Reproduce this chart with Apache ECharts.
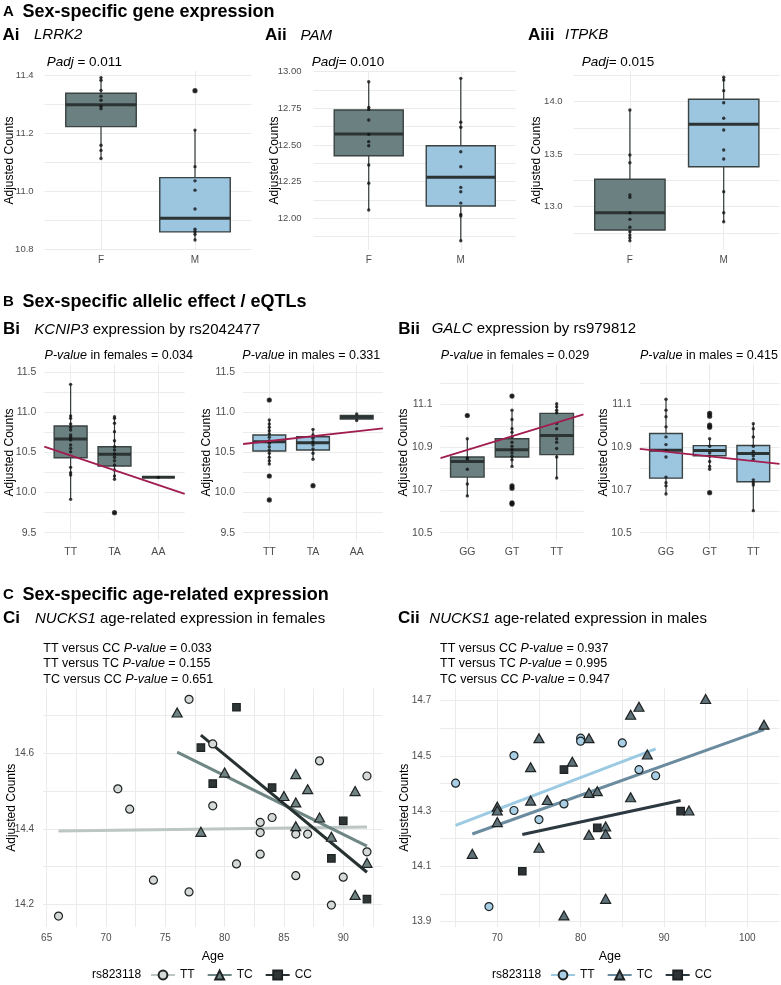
<!DOCTYPE html>
<html><head><meta charset="utf-8">
<script src="https://cdn.jsdelivr.net/npm/echarts@6/dist/echarts.min.js"></script>
<style>html,body{margin:0;padding:0;background:#fff}#c{width:781px;height:985px}</style>
</head><body><div id="c"></div>
<script>
// ===================== DATA =====================
const sexCategories = ['F', 'M'];
const kcnip3Genotypes = ['TT', 'TA', 'AA'];
const galcGenotypes = ['GG', 'GT', 'TT'];
const nucksGenotypes = ['TT', 'TC', 'CC'];

// box stats: [lower whisker, Q1, median, Q3, upper whisker]
// Ai LRRK2
const lrrk2PointsF = [11.392, 11.383, 11.348, 11.328, 11.314, 11.293, 11.285, 11.159, 11.141, 11.113];
const lrrk2BoxF = [11.113, 11.223, 11.298, 11.338, 11.392];
const lrrk2PointsM = [11.347, 11.211, 11.085, 11.036, 11.004, 10.939, 10.869, 10.861, 10.852, 10.832];
const lrrk2BoxM = [10.832, 10.860, 10.907, 11.047, 11.211];
// Aii PAM
const pamPointsF = [12.932, 12.757, 12.743, 12.671, 12.573, 12.523, 12.495, 12.364, 12.239, 12.057];
const pamBoxF = [12.057, 12.427, 12.575, 12.739, 12.932];
const pamPointsM = [12.955, 12.655, 12.621, 12.454, 12.352, 12.211, 12.181, 12.104, 12.027, 12.016, 11.847];
const pamBoxM = [11.847, 12.084, 12.280, 12.495, 12.955];
// Aiii ITPKB
const itpkbPointsF = [13.921, 13.492, 13.419, 13.111, 13.089, 12.943, 12.880, 12.804, 12.762, 12.730, 12.705, 12.676];
const itpkbBoxF = [12.676, 12.778, 12.943, 13.261, 13.921];
const itpkbPointsM = [14.232, 14.207, 14.105, 13.990, 13.842, 13.730, 13.540, 13.454, 13.143, 12.943, 12.857];
const itpkbBoxM = [12.857, 13.381, 13.785, 14.023, 14.232];

// Bi KCNIP3 by rs2042477
const kcnip3F_TT = [11.35, 10.955, 10.926, 10.855, 10.814, 10.78, 10.718, 10.69, 10.656, 10.594, 10.552, 10.51, 10.315, 10.248, 10.22, 9.916];
const kcnip3F_TA = [10.946, 10.926, 10.864, 10.76, 10.647, 10.572, 10.531, 10.481, 10.44, 10.398, 10.344, 10.282, 10.207, 10.166, 9.749];
const kcnip3F_AA = [10.19];
const kcnip3BoxF = [[9.916, 10.435, 10.668, 10.83, 11.35], [10.166, 10.332, 10.477, 10.572, 10.946], [10.19, 10.19, 10.19, 10.19, 10.19]];
const kcnip3FitF = [[0.4, 10.572], [3.6, 9.983]];
const kcnip3M_TT = [11.155, 10.905, 10.855, 10.814, 10.772, 10.731, 10.69, 10.647, 10.615, 10.572, 10.531, 10.49, 10.44, 10.398, 10.357, 10.207, 9.908];
const kcnip3M_TA = [10.789, 10.718, 10.677, 10.635, 10.594, 10.544, 10.49, 10.415, 10.086];
const kcnip3M_AA = [10.98, 10.90];
const kcnip3BoxM = [[10.357, 10.519, 10.635, 10.718, 10.905], [10.415, 10.531, 10.622, 10.697, 10.789], [10.90, 10.918, 10.94, 10.962, 10.98]];
const kcnip3FitM = [[0.4, 10.606], [3.6, 10.802]];

// Bii GALC by rs979812
const galcF_GG = [11.048, 10.939, 10.849, 10.845, 10.797, 10.728, 10.672];
const galcF_GT = [11.139, 11.073, 11.029, 10.986, 10.97, 10.948, 10.923, 10.904, 10.888, 10.873, 10.857, 10.841, 10.81, 10.719, 10.708, 10.64, 10.634];
const galcF_TT = [11.103, 11.089, 11.073, 11.061, 11.011, 10.986, 10.939, 10.923, 10.894, 10.854, 10.756];
const galcBoxF = [[10.672, 10.76, 10.833, 10.854, 10.939], [10.81, 10.854, 10.888, 10.939, 11.073], [10.756, 10.865, 10.954, 11.058, 11.103]];
const galcFitF = [[0.4, 10.849], [3.6, 11.053]];
const galcM_GG = [11.124, 11.073, 11.042, 10.995, 10.948, 10.912, 10.884, 10.854, 10.76, 10.734, 10.719, 10.681];
const galcM_GT = [11.058, 11.045, 11.003, 10.993, 10.939, 10.904, 10.873, 10.857, 10.833, 10.81, 10.797, 10.687];
const galcM_TT = [11.01, 10.986, 10.948, 10.904, 10.88, 10.86, 10.844, 10.747, 10.734, 10.723, 10.603];
const galcBoxM = [[10.681, 10.755, 10.885, 10.964, 11.124], [10.797, 10.86, 10.884, 10.907, 10.939], [10.603, 10.738, 10.87, 10.908, 11.01]];
const galcFitM = [[0.4, 10.892], [3.6, 10.822]];

// Ci / Cii NUCKS1 [age, adjusted counts]
const nucksF_TT = [[77,14.743],[79,14.625],[71,14.506],[72,14.452],[79,14.461],[74,14.264],[77,14.233],[66,14.169],[81,14.307],[83,14.417],[83,14.39],[83,14.333],[84,14.43],[86,14.386],[86,14.276],[87,14.386],[88,14.58],[89,14.198],[90,14.272],[92,14.54],[92,14.339]];
const nucksF_TC = [[76,14.708],[78,14.392],[80,14.549],[85,14.487],[86,14.545],[86,14.47],[86,14.407],[87,14.505],[88,14.43],[89,14.379],[91,14.5],[91,14.225],[92,14.31]];
const nucksF_CC = [[81,14.722],[78,14.615],[79,14.52],[84,14.509],[90,14.421],[89,14.322],[92,14.214]];
const nucksF_TT_fit = [[66,14.394],[92,14.405]];
const nucksF_TC_fit = [[76,14.603],[92,14.354]];
const nucksF_CC_fit = [[78,14.648],[92,14.285]];
const nucksM_TT = [[65,14.401],[69,13.954],[72,14.501],[72,14.302],[75,14.269],[78,14.326],[80,14.564],[80,14.553],[85,14.547],[87,14.45],[89,14.428]];
const nucksM_TC = [[67,14.145],[70,14.316],[70,14.302],[70,14.26],[74,14.459],[74,14.338],[75,14.564],[75,14.167],[76,14.34],[78,13.922],[79,14.479],[81,14.564],[81,14.366],[81,14.214],[82,14.372],[83,14.244],[83,14.217],[83,13.982],[86,14.649],[86,14.35],[87,14.678],[88,14.505],[93,14.302],[95,14.706],[102,14.613]];
const nucksM_CC = [[73,14.082],[78,14.45],[82,14.239],[92,14.3]];
const nucksM_TT_fit = [[65,14.248],[89,14.525]];
const nucksM_TC_fit = [[67,14.217],[102,14.595]];
const nucksM_CC_fit = [[73,14.215],[92,14.338]];

// tick (gridline) values and tick labels
const lrrk2Ticks = [10.8, 10.9, 11.0, 11.1, 11.2, 11.3, 11.4];
const lrrk2Labels = [10.8, 11.0, 11.2, 11.4];
const pamTicks = [11.875, 12.0, 12.125, 12.25, 12.375, 12.5, 12.625, 12.75, 12.875, 13.0];
const pamLabels = [12.0, 12.25, 12.5, 12.75, 13.0];
const itpkbTicks = [12.75, 13.0, 13.25, 13.5, 13.75, 14.0, 14.25];
const itpkbLabels = [13.0, 13.5, 14.0];
const kcnip3Ticks = [9.5, 9.75, 10.0, 10.25, 10.5, 10.75, 11.0, 11.25, 11.5];
const kcnip3Labels = [9.5, 10.0, 10.5, 11.0, 11.5];
const galcTicks = [10.5, 10.6, 10.7, 10.8, 10.9, 11.0, 11.1, 11.2];
const galcLabels = [10.5, 10.7, 10.9, 11.1];
const ageTicksF = [65, 67.5, 70, 72.5, 75, 77.5, 80, 82.5, 85, 87.5, 90, 92.5];
const ageLabelsF = [65, 70, 75, 80, 85, 90];
const countTicksF = [14.2, 14.3, 14.4, 14.5, 14.6, 14.7];
const countLabelsF = [14.2, 14.4, 14.6];
const ageTicksM = [65, 70, 75, 80, 85, 90, 95, 100];
const ageLabelsM = [70, 80, 90, 100];
const countTicksM = [13.9, 14.0, 14.1, 14.2, 14.3, 14.4, 14.5, 14.6, 14.7];
const countLabelsM = [13.9, 14.1, 14.3, 14.5, 14.7];

// ===================== STYLE =====================
const FF = '"Liberation Sans", Arial, Helvetica, sans-serif';
const GRIDC = '#ebebeb';
const AXT = '#4d4d4d';
const FILL_F = '#6b8181', FILL_M = '#9cc5e0';
const FIT_B = '#a11c4f';
const cSty = {
  F: { TT: {line: '#bcc6c3', fill: '#d5dad9'}, TC: {line: '#6e8684', fill: '#6f8383'}, CC: {line: '#283131', fill: '#2e3636'} },
  M: { TT: {line: '#9ccae3', fill: '#a8cfe5'}, TC: {line: '#6b8b9f', fill: '#5f7279'}, CC: {line: '#2d3940', fill: '#2c3337'} }
};
const SYM = { TT: {s: 'circle', size: 8}, TC: {s: 'triangle', size: [10, 9]}, CC: {s: 'rect', size: 7.5} };

const grids = [], xAxes = [], yAxes = [], series = [], graphics = [], legends = [];

function addGrid(l, r, t, b) {
  grids.push({left: l, top: t, width: r - l, height: b - t, containLabel: false, outerBoundsMode: 'none', show: false});
  return grids.length - 1;
}
function valAxis(g, min, max, ticks, labels, dec, fs, margin, fmt) {
  return {
    type: 'value', gridIndex: g, min, max,
    axisLine: {show: false},
    axisTick: {show: false, customValues: ticks},
    splitLine: {show: true, lineStyle: {color: GRIDC, width: 1}},
    axisLabel: {customValues: labels, formatter: fmt || (v => v.toFixed(dec)), color: AXT, fontSize: fs, fontFamily: FF, margin}
  };
}
function catAxis(g, cats, fs, margin) {
  const pos = cats.map((c, i) => i + 1);
  return valAxis(g, 0.4, cats.length + 0.6, pos, pos, 0, fs, margin, v => cats[Math.round(v) - 1]);
}
function boxRenderer(fill) {
  return function (params, api) {
    const x = api.value(0);
    const lo = api.coord([x, api.value(1)]);
    const q1 = api.coord([x, api.value(2)]);
    const md = api.coord([x, api.value(3)]);
    const q3 = api.coord([x, api.value(4)]);
    const hi = api.coord([x, api.value(5)]);
    const w = api.size([0.75, 0])[0];
    const cx = q1[0];
    const st = {stroke: '#333a3a', lineWidth: 1.2};
    return {type: 'group', children: [
      {type: 'line', shape: {x1: cx, y1: lo[1], x2: cx, y2: q1[1]}, style: st},
      {type: 'line', shape: {x1: cx, y1: q3[1], x2: cx, y2: hi[1]}, style: st},
      {type: 'rect', shape: {x: cx - w / 2, y: q3[1], width: w, height: q1[1] - q3[1]}, style: {fill: fill, stroke: '#3a4242', lineWidth: 1.4}},
      {type: 'line', shape: {x1: cx - w / 2, y1: md[1], x2: cx + w / 2, y2: md[1]}, style: {stroke: '#2c3333', lineWidth: 3}}
    ]};
  };
}
function addBoxGroup(g, xPos, box, points, fill) {
  series.push({type: 'custom', xAxisIndex: g, yAxisIndex: g, renderItem: boxRenderer(fill),
    encode: {x: 0, y: [1, 2, 3, 4, 5]}, data: [[xPos].concat(box)], z: 2, silent: true});
  series.push({type: 'scatter', xAxisIndex: g, yAxisIndex: g, symbolSize: 3.4, itemStyle: {color: '#111'},
    data: points.map(v => [xPos, v]), z: 4, silent: true});
  const outl = points.filter(v => v < box[0] - 1e-9 || v > box[4] + 1e-9);
  if (outl.length) series.push({type: 'scatter', xAxisIndex: g, yAxisIndex: g, symbolSize: 5.2, itemStyle: {color: '#111'},
    data: outl.map(v => [xPos, v]), z: 3, silent: true});
}
function addFit(g, fit) {
  series.push({type: 'line', xAxisIndex: g, yAxisIndex: g, data: fit, showSymbol: false, symbol: 'none',
    lineStyle: {color: FIT_B, width: 1.8}, z: 5, silent: true});
}

// ---------- Row A ----------
const A_T = 71, A_B = 250;
const aPanels = [
  {l: 44.6, r: 251.4, min: 10.7976, max: 11.4148, ticks: lrrk2Ticks, labels: lrrk2Labels, dec: 1, m: 11,
   F: [lrrk2BoxF, lrrk2PointsF], M: [lrrk2BoxM, lrrk2PointsM]},
  {l: 313.5, r: 516, min: 11.784, max: 13.005, ticks: pamTicks, labels: pamLabels, dec: 2, m: 12,
   F: [pamBoxF, pamPointsF], M: [pamBoxM, pamPointsM]},
  {l: 573.6, r: 780, min: 12.588, max: 14.292, ticks: itpkbTicks, labels: itpkbLabels, dec: 1, m: 11,
   F: [itpkbBoxF, itpkbPointsF], M: [itpkbBoxM, itpkbPointsM]}
];
aPanels.forEach(p => {
  const g = addGrid(p.l, p.r, A_T, A_B);
  xAxes.push(catAxis(g, sexCategories, 10, 5));
  yAxes.push(valAxis(g, p.min, p.max, p.ticks, p.labels, p.dec, 9.5, p.m));
  addBoxGroup(g, 1, p.F[0], p.F[1], FILL_F);
  addBoxGroup(g, 2, p.M[0], p.M[1], FILL_M);
});

// ---------- Row B ----------
const B_T = 364.3, B_B = 540.7;
const bPanels = [
  {l: 44.3, r: 184.7, min: 9.4, max: 11.6, ticks: kcnip3Ticks, labels: kcnip3Labels, cats: kcnip3Genotypes,
   boxes: kcnip3BoxF, pts: [kcnip3F_TT, kcnip3F_TA, kcnip3F_AA], fit: kcnip3FitF, fill: FILL_F},
  {l: 243.1, r: 382.9, min: 9.4, max: 11.6, ticks: kcnip3Ticks, labels: kcnip3Labels, cats: kcnip3Genotypes,
   boxes: kcnip3BoxM, pts: [kcnip3M_TT, kcnip3M_TA, kcnip3M_AA], fit: kcnip3FitM, fill: FILL_M},
  {l: 440.5, r: 583.5, min: 10.4625, max: 11.2875, ticks: galcTicks, labels: galcLabels, cats: galcGenotypes,
   boxes: galcBoxF, pts: [galcF_GG, galcF_GT, galcF_TT], fit: galcFitF, fill: FILL_F},
  {l: 639.8, r: 779.5, min: 10.4625, max: 11.2875, ticks: galcTicks, labels: galcLabels, cats: galcGenotypes,
   boxes: galcBoxM, pts: [galcM_GG, galcM_GT, galcM_TT], fit: galcFitM, fill: FILL_M}
];
bPanels.forEach(p => {
  const g = addGrid(p.l, p.r, B_T, B_B);
  xAxes.push(catAxis(g, p.cats, 10.5, 5.5));
  yAxes.push(valAxis(g, p.min, p.max, p.ticks, p.labels, 1, 10.5, 8));
  p.boxes.forEach((b, i) => addBoxGroup(g, i + 1, b, p.pts[i], p.fill));
  addFit(g, p.fit);
});

// ---------- Row C ----------
const C_T = 688.5, C_B = 927;
const cPanels = [
  {key: 'F', l: 43.1, r: 382.4, xmin: 64.7, xmax: 93.3, ymin: 14.14, ymax: 14.7717,
   xt: ageTicksF, xl: ageLabelsF, yt: countTicksF, yl: countLabelsF,
   pts: {TT: nucksF_TT, TC: nucksF_TC, CC: nucksF_CC}, fits: {TT: nucksF_TT_fit, TC: nucksF_TC_fit, CC: nucksF_CC_fit},
   legendLeft: 150, legendTitleX: 92},
  {key: 'M', l: 440.2, r: 779.4, xmin: 63.15, xmax: 103.85, ymin: 13.88, ymax: 14.744,
   xt: ageTicksM, xl: ageLabelsM, yt: countTicksM, yl: countLabelsM,
   pts: {TT: nucksM_TT, TC: nucksM_TC, CC: nucksM_CC}, fits: {TT: nucksM_TT_fit, TC: nucksM_TC_fit, CC: nucksM_CC_fit},
   legendLeft: 550, legendTitleX: 492}
];
cPanels.forEach(p => {
  const g = addGrid(p.l, p.r, C_T, C_B);
  xAxes.push(valAxis(g, p.xmin, p.xmax, p.xt, p.xl, 0, 10, 6));
  yAxes.push(valAxis(g, p.ymin, p.ymax, p.yt, p.yl, 1, 10, 9));
  nucksGenotypes.forEach(gt => {
    const s = cSty[p.key][gt];
    series.push({type: 'line', name: p.key + '|' + gt, xAxisIndex: g, yAxisIndex: g, data: p.fits[gt],
      symbol: SYM[gt].s, showSymbol: false, symbolSize: SYM[gt].size,
      lineStyle: {color: s.line, width: 3}, itemStyle: {color: s.fill, borderColor: '#1e2222', borderWidth: 1.1},
      z: 2, silent: true});
  });
  nucksGenotypes.forEach(gt => {
    const s = cSty[p.key][gt];
    series.push({type: 'scatter', name: p.key + '|' + gt, xAxisIndex: g, yAxisIndex: g, data: p.pts[gt],
      symbol: SYM[gt].s, symbolSize: SYM[gt].size,
      itemStyle: {color: s.fill, borderColor: '#1e2222', borderWidth: 1.2, opacity: 1}, z: 3, silent: true});
  });
  legends.push({left: p.legendLeft, top: 969, padding: 0, itemWidth: 24, itemHeight: 11, itemGap: 12,
    selectedMode: false, data: nucksGenotypes.map(gt => p.key + '|' + gt),
    formatter: n => n.split('|')[1], textStyle: {fontSize: 12, fontFamily: FF, color: '#111'}});
  graphics.push(txt(p.legendTitleX, 975, 'rs823118', 12));
  graphics.push(txt((p.l + p.r) / 2, 957, 'Age', 12.5, 'normal', 'normal', 'center'));
});

// ---------- texts ----------
function txt(x, y, text, size, weight, style, align, rot) {
  return {type: 'text', x, y, rotation: rot || 0, silent: true,
    style: {text, fontSize: size, fontFamily: FF, fontWeight: weight || 'normal', fontStyle: style || 'normal',
      fill: '#000', align: align || 'left', verticalAlign: 'middle'}};
}
function rich(x, y, parts, size, align) {
  const r = {
    i: {fontSize: size, fontFamily: FF, fontStyle: 'italic', fontWeight: 'normal', fill: '#000'},
    n: {fontSize: size, fontFamily: FF, fontStyle: 'normal', fontWeight: 'normal', fill: '#000'}
  };
  return {type: 'text', x, y, silent: true,
    style: {text: parts.map(p => '{' + p[0] + '|' + p[1] + '}').join(''), rich: r,
      fontSize: size, fontFamily: FF, align: align || 'left', verticalAlign: 'middle'}};
}
// section headers
graphics.push(txt(3, 12, 'A', 15, 'bold'), txt(22.5, 12, 'Sex-specific gene expression', 18, 'bold'));
graphics.push(txt(3, 302, 'B', 15, 'bold'), txt(22.5, 302, 'Sex-specific allelic effect / eQTLs', 18, 'bold'));
graphics.push(txt(3, 595, 'C', 15, 'bold'), txt(22.5, 595, 'Sex-specific age-related expression', 18, 'bold'));
// panel headers
graphics.push(txt(2.5, 35, 'Ai', 17, 'bold'), txt(34, 35, 'LRRK2', 15, 'normal', 'italic'));
graphics.push(txt(265, 35.5, 'Aii', 17, 'bold'), txt(300.5, 35.5, 'PAM', 15, 'normal', 'italic'));
graphics.push(txt(528, 35, 'Aiii', 17, 'bold'), txt(565, 35, 'ITPKB', 15, 'normal', 'italic'));
graphics.push(rich(46.7, 62, [['i', 'Padj'], ['n', ' = 0.011']], 13.5));
graphics.push(rich(311.7, 62, [['i', 'Padj'], ['n', '= 0.010']], 13.5));
graphics.push(rich(581.7, 62, [['i', 'Padj'], ['n', '= 0.015']], 13.5));
graphics.push(txt(3, 329.5, 'Bi', 17, 'bold'), rich(34.3, 329.5, [['i', 'KCNIP3'], ['n', ' expression by rs2042477']], 15));
graphics.push(txt(398.3, 329, 'Bii', 17, 'bold'), rich(431.7, 329, [['i', 'GALC'], ['n', ' expression by rs979812']], 15));
graphics.push(rich(118.8, 355.5, [['i', 'P-value'], ['n', ' in females = 0.034']], 12.5, 'center'));
graphics.push(rich(311.3, 355.5, [['i', 'P-value'], ['n', ' in males = 0.331']], 12.5, 'center'));
graphics.push(rich(515, 355.5, [['i', 'P-value'], ['n', ' in females = 0.029']], 12.5, 'center'));
graphics.push(rich(709, 355.5, [['i', 'P-value'], ['n', ' in males = 0.415']], 12.5, 'center'));
graphics.push(txt(3, 618.5, 'Ci', 17, 'bold'), rich(35, 619, [['i', 'NUCKS1'], ['n', ' age-related expression in females']], 15));
graphics.push(txt(398, 618.5, 'Cii', 17, 'bold'), rich(429.3, 619, [['i', 'NUCKS1'], ['n', ' age-related expression in males']], 15));
[['TT versus CC ', ' = 0.033'], ['TT versus TC ', ' = 0.155'], ['TC versus CC ', ' = 0.651']].forEach((t, k) =>
  graphics.push(rich(43.3, 648.3 + k * 15.4, [['n', t[0]], ['i', 'P-value'], ['n', t[1]]], 12.5)));
[['TT versus CC ', ' = 0.937'], ['TT versus TC ', ' = 0.995'], ['TC versus CC ', ' = 0.947']].forEach((t, k) =>
  graphics.push(rich(440, 648.3 + k * 15.4, [['n', t[0]], ['i', 'P-value'], ['n', t[1]]], 12.5)));
// y axis titles
[[10, 160.5], [275, 160.5], [537, 160.5], [10, 452.5], [206.7, 452.5], [403.3, 452.5], [603.3, 452.5], [11.7, 807.7], [405, 807.7]]
  .forEach(p => graphics.push(txt(p[0], p[1], 'Adjusted Counts', 12, 'normal', 'normal', 'center', Math.PI / 2)));

const chart = echarts.init(document.getElementById('c'), null, {renderer: 'canvas', width: 781, height: 985});
chart.setOption({
  animation: false,
  backgroundColor: '#ffffff',
  textStyle: {fontFamily: FF},
  grid: grids, xAxis: xAxes, yAxis: yAxes, series, legend: legends, graphic: graphics
});
</script></body></html>
